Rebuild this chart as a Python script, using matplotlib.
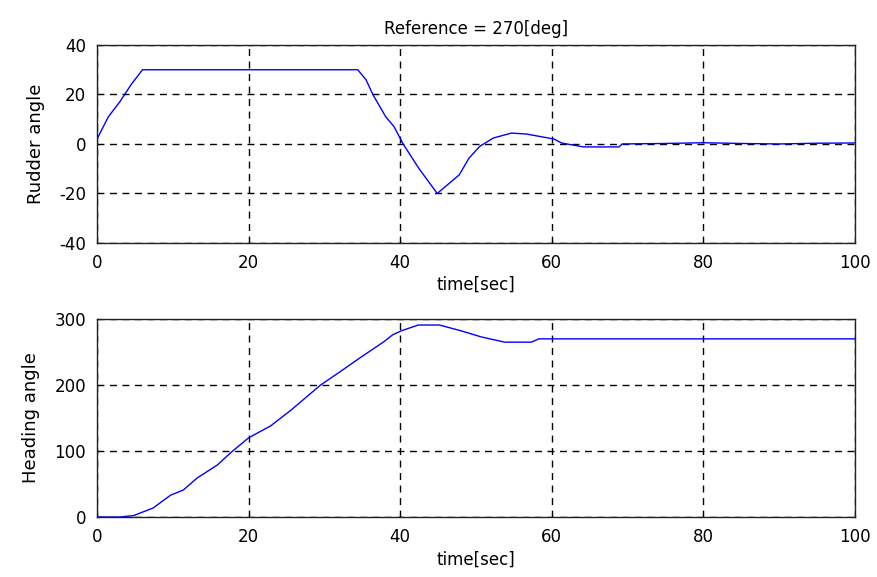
import matplotlib
matplotlib.use("Agg")
import matplotlib.pyplot as plt

# Rudder angle (top panel)
rudder_t = [0, 1.5, 3, 4.5, 6, 20, 34.4, 35.5, 36.4, 38.1, 39.2, 40.4, 42.5, 44.9,
            47.8, 49.1, 50.5, 52.3, 54.7, 56.7, 58.5, 60.3, 61.3, 64.2, 68.9, 69.3,
            75, 80, 85, 90, 95, 100]
rudder_v = [2, 11, 17, 24, 30, 30, 30, 26, 20, 11, 7, 0, -10, -20,
            -12.5, -5.7, -1, 2.4, 4.4, 4.0, 3, 2, 0.4, -1.2, -1.2, 0,
            0.2, 0.5, 0.2, 0, 0.3, 0.4]

# Heading angle (bottom panel)
heading_t = [0, 3, 4.8, 7.4, 9.7, 11.4, 13.2, 15.9, 17.6, 20, 22.9, 25.6, 29.5,
             31.8, 34.8, 37.9, 39.0, 40.1, 42.4, 45.2, 48.1, 50.7, 53.8, 57.3,
             58.3, 60.3, 80, 100]
heading_v = [0, 0, 2, 13.6, 33, 41, 59, 79, 97, 120, 138, 162, 200,
             218, 242, 266, 276, 282, 291, 291, 282, 273, 265, 265,
             270, 270, 270, 270]

title = "Reference = 270[deg]"
xlabel = "time[sec]"
x_ticks = [0, 20, 40, 60, 80, 100]
rudder_ticks = [-40, -20, 0, 20, 40]
heading_ticks = [0, 100, 200, 300]

plt.rcParams['font.family'] = ['DejaVu Sans']
plt.rcParams['axes.unicode_minus'] = False
fig = plt.figure(figsize=(8.78, 5.77), dpi=100)
ax1 = fig.add_axes([0.1105, 0.579, 0.863, 0.343])
ax2 = fig.add_axes([0.1105, 0.104, 0.863, 0.343])

for ax, t, v, yt, yl in [(ax1, rudder_t, rudder_v, rudder_ticks, "Rudder angle"),
                         (ax2, heading_t, heading_v, heading_ticks, "Heading angle")]:
    ax.plot(t, v, color='#0000ff', linewidth=1.0)
    ax.set_xlim(0, 100)
    ax.set_ylim(yt[0], yt[-1])
    ax.set_xticks(x_ticks)
    ax.set_yticks(yt)
    ax.grid(True, color='black', linestyle=(0, (5, 4)), linewidth=1.0)
    ax.tick_params(direction='in', length=3, labelsize=12, color='black', pad=8)
    for s in ax.spines.values():
        s.set_linewidth(1.0)
        s.set_color('#222222')
    ax.set_xlabel(xlabel, fontsize=12, labelpad=3)
    ax.set_ylabel(yl, fontsize=13, labelpad=10)

ax1.set_title(title, fontsize=12, pad=8)
fig.savefig("out.png", dpi=100)
